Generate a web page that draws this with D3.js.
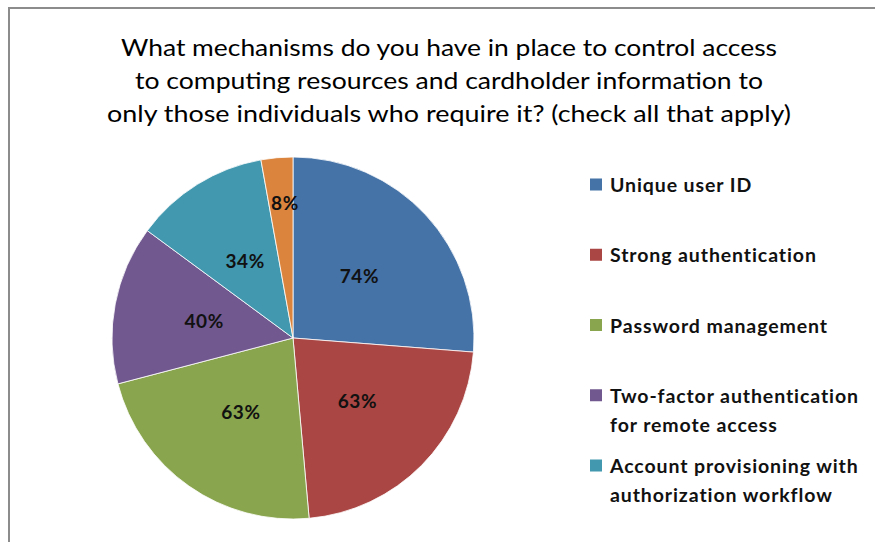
<!DOCTYPE html>
<html>
<head>
<meta charset="utf-8">
<script src="https://cdn.jsdelivr.net/npm/d3@7"></script>
<style>
  html, body { margin: 0; padding: 0; background: #fff; }
  svg { display: block; }
</style>
</head>
<body>
<svg id="chart" width="875" height="542"></svg>
<script>
// ---- data ----
const titleLines = [
  "What mechanisms do you have in place to control access",
  "to computing resources and cardholder information to",
  "only those individuals who require it? (check all that apply)"
];
const categories = [
  "Unique user ID",
  "Strong authentication",
  "Password management",
  "Two-factor authentication\nfor remote access",
  "Account provisioning with\nauthorization workflow",
  "Other"
];
const values = [74, 63, 63, 40, 34, 8];
const colors = ["#4572A7", "#AA4643", "#89A54E", "#71588F", "#4198AF", "#DB843D"];
const legendCount = 5; // only the first five legend entries are visible in the reference

// ---- layout ----
const svg = d3.select("#chart");
const W = 875, H = 542;
const FONT = "Lato, 'Open Sans', 'Liberation Sans', sans-serif";

svg.append("rect").attr("width", W).attr("height", H).attr("fill", "#fff");
// frame (clipped at right and bottom in the reference)
svg.append("rect")
  .attr("x", 9).attr("y", 8).attr("width", W + 20).attr("height", H + 20)
  .attr("fill", "none").attr("stroke", "#8c8c8c").attr("stroke-width", 2);

// title
const titleWidths = [656, 628, 684];
const titleY = d3.scaleLinear().domain([0, 2]).range([56, 122]);
svg.append("g").selectAll("text").data(titleLines).join("text")
  .attr("x", 449).attr("y", (d, i) => titleY(i))
  .attr("text-anchor", "middle")
  .attr("font-family", FONT).attr("font-size", 23).attr("fill", "#000")
  .attr("textLength", (d, i) => titleWidths[i]).attr("lengthAdjust", "spacingAndGlyphs")
  .text(d => d);

// pie
const cx = 293, cy = 338, r = 181;
const pie = d3.pie().sort(null).value(d => d)(values);
const arc = d3.arc().innerRadius(0).outerRadius(r);
const g = svg.append("g").attr("transform", `translate(${cx},${cy})`);
g.selectAll("path").data(pie).join("path")
  .attr("d", arc)
  .attr("fill", (d, i) => colors[i])
  .attr("stroke", "#ffffff").attr("stroke-width", 0.8);

const labelArcNormal = d3.arc().innerRadius(r * 0.5).outerRadius(r * 0.5);
const labelArcSmall = d3.arc().innerRadius(r * 0.75).outerRadius(r * 0.75);
g.selectAll("text.lbl").data(pie).join("text")
  .attr("class", "lbl")
  .attr("transform", d => {
    const small = (d.endAngle - d.startAngle) < 0.4;
    const [x, y] = (small ? labelArcSmall : labelArcNormal).centroid(d);
    return `translate(${x + (small ? 4 : 0)},${y})`;
  })
  .attr("text-anchor", "middle").attr("dy", "0.36em")
  .attr("font-family", FONT).attr("font-weight", 700).attr("font-size", 19)
  .attr("letter-spacing", 0.6)
  .attr("fill", "#111")
  .text(d => d.data + "%");

// legend
const legendData = categories.slice(0, legendCount).map((c, i) => ({ lines: c.split("\n"), color: colors[i] }));
const ly = d3.scalePoint().domain(d3.range(legendCount)).range([185, 466]);
const leg = svg.append("g").selectAll("g").data(legendData).join("g")
  .attr("transform", (d, i) => `translate(590,${ly(i)})`);
leg.append("rect")
  .attr("x", 0).attr("y", -6.5).attr("width", 12).attr("height", 12)
  .attr("fill", d => d.color);
leg.each(function(d) {
  const t = d3.select(this).append("text")
    .attr("font-family", FONT).attr("font-weight", 700).attr("font-size", 19.5)
    .attr("letter-spacing", 0.9)
    .attr("fill", "#111");
  d.lines.forEach((ln, j) => {
    t.append("tspan").attr("x", 20).attr("y", j * 29).attr("dy", "0.36em").text(ln);
  });
});
</script>
</body>
</html>
